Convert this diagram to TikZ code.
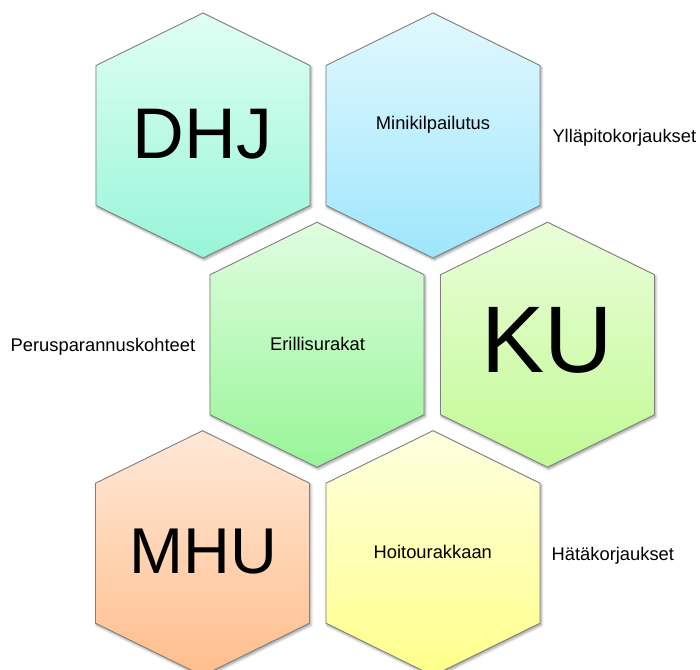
\documentclass[tikz,border=0pt]{standalone}
\usepackage{fontspec}
\setmainfont{Liberation Sans}
\usetikzlibrary{shadows.blur}

% cell colours: light top, saturated bottom
\definecolor{hexline}{HTML}{7F7F7F}
\definecolor{dhjtop}{HTML}{E0FFF4}\definecolor{dhjbot}{HTML}{98F5D8}
\definecolor{minitop}{HTML}{E2F8FF}\definecolor{minibot}{HTML}{9EE6FC}
\definecolor{eriltop}{HTML}{E0FDE0}\definecolor{erilbot}{HTML}{98F598}
\definecolor{kutop}{HTML}{EAFDD9}\definecolor{kubot}{HTML}{C2FA94}
\definecolor{mhutop}{HTML}{FFE8D8}\definecolor{mhubot}{HTML}{FFBE8C}
\definecolor{hoitotop}{HTML}{FFFFE0}\definecolor{hoitobot}{HTML}{FFFF8A}

\tikzset{
  hexbody/.style={draw=hexline, line width=0.9bp,
    blur shadow={shadow xshift=1.2bp, shadow yshift=-1.8bp,
      shadow blur radius=2.5bp, shadow blur steps=6, shadow opacity=40}},
  pics/hexcell/.style={code={
    \path[hexbody,#1] (0,-122.5) -- (107,-70) -- (107,70) -- (0,122.5)
      -- (-107,70) -- (-107,-70) -- cycle;}},
  dhjfill/.style={top color=dhjtop, bottom color=dhjbot},
  minifill/.style={top color=minitop, bottom color=minibot},
  erilfill/.style={top color=eriltop, bottom color=erilbot},
  kufill/.style={top color=kutop, bottom color=kubot},
  mhufill/.style={top color=mhutop, bottom color=mhubot},
  hoitofill/.style={top color=hoitotop, bottom color=hoitobot},
  bigword/.style={font=\fontsize{#1}{#1}\selectfont, inner sep=0pt, anchor=base},
  cellword/.style={font=\fontsize{18.4}{18.4}\selectfont, inner sep=0pt, anchor=base},
  sideword/.style={font=\fontsize{18.4}{18.4}\selectfont, inner sep=0pt, anchor=base west},
}

\begin{document}
\begin{tikzpicture}[x=1bp, y=-1bp]
  \useasboundingbox (0,0) rectangle (700,670);
  \clip (0,0) rectangle (700,670);

  % honeycomb cells
  \pic at (203,135.5) {hexcell=dhjfill};
  \pic at (433,135.5) {hexcell=minifill};
  \pic at (317,344.7) {hexcell=erilfill};
  \pic at (547.5,344.7) {hexcell=kufill};
  \pic at (202.5,553.2) {hexcell=mhufill};
  \pic at (433,553.2) {hexcell=hoitofill};

  % cell texts
  \node[bigword=72] (dhj) at (202.5,158.3) {DHJ};
  \node[cellword] (mini) at (433,130) {Minikilpailutus};
  \node[cellword] (eril) at (317.5,350.7) {Erillisurakat};
  \node[bigword=95] (ku) at (547.5,372.7) {KU};
  \node[bigword=65] (mhu) at (203.3,573.3) {MHU};
  \node[cellword] (hoito) at (432.8,558.3) {Hoitourakkaan};

  % labels beside the cells
  \node[sideword] (yllapito) at (552.3,142.3) {Ylläpitokorjaukset};
  \node[sideword] (perus) at (10.5,351.7) {Perusparannuskohteet};
  \node[sideword] (hata) at (551.5,560) {Hätäkorjaukset};
\end{tikzpicture}
\end{document}
